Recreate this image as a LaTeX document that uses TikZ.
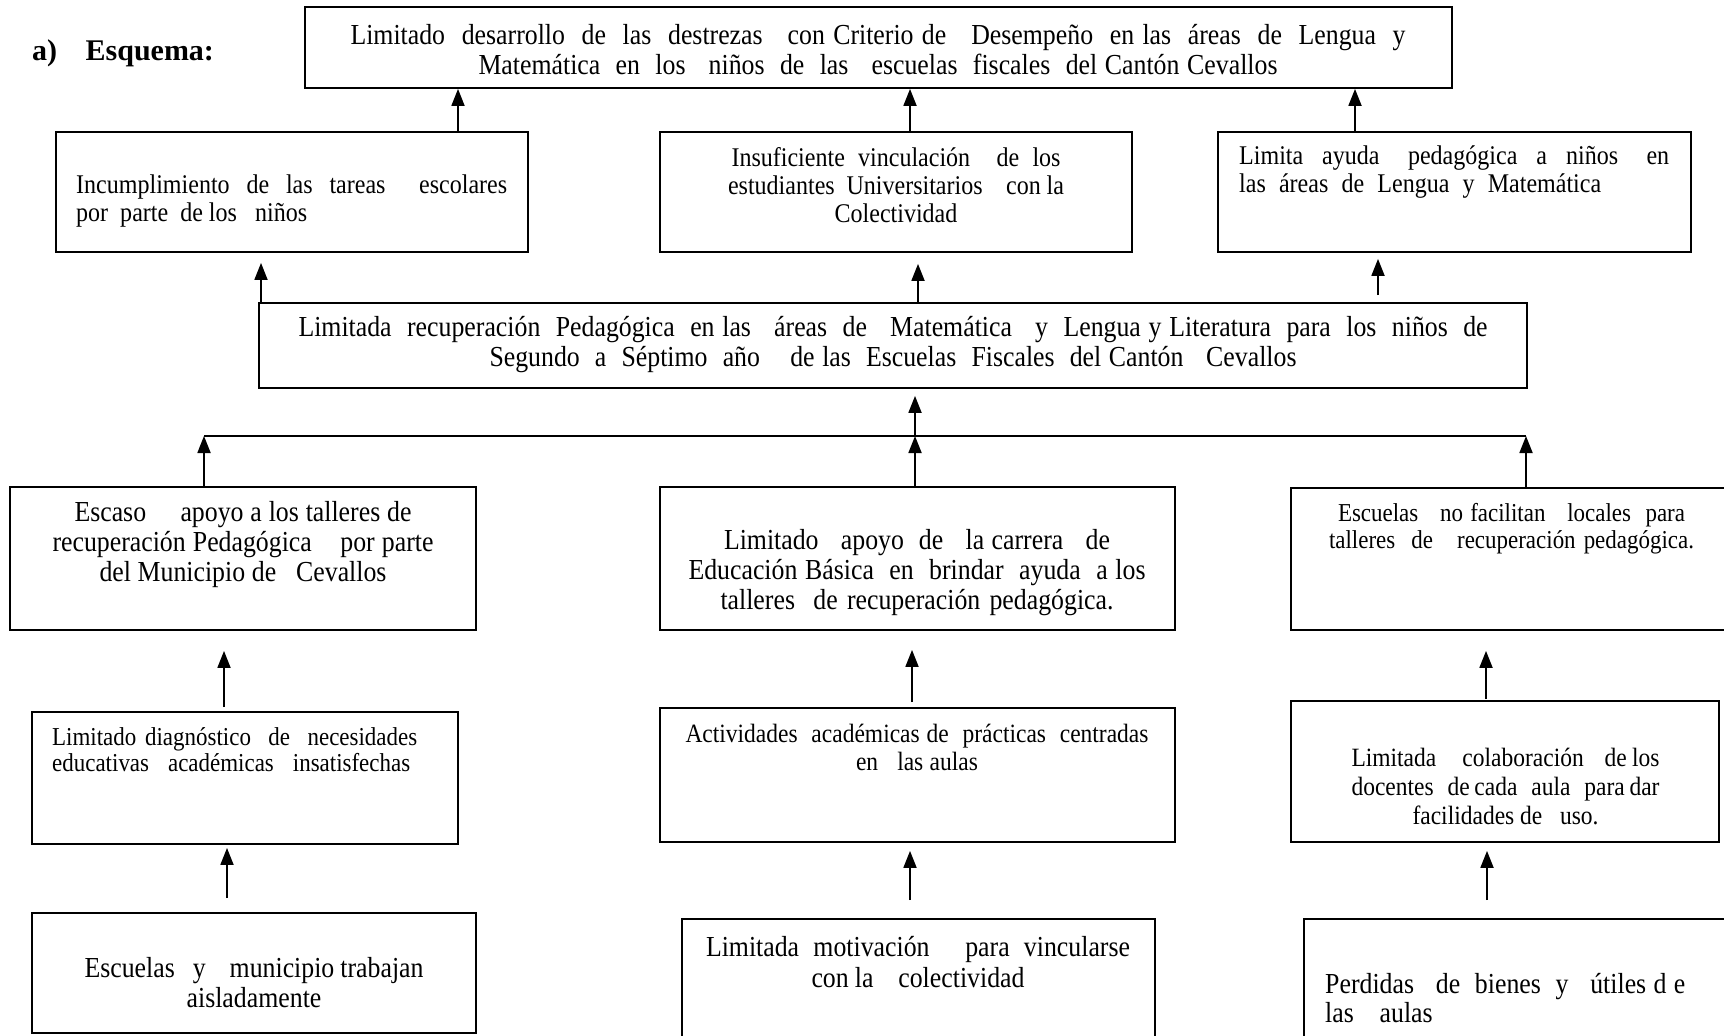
\documentclass[tikz,border=0pt]{standalone}
\usepackage{fontspec}
\setmainfont{Liberation Serif}[FakeStretch=0.89]
\newfontfamily\titlefont{Liberation Serif}
\usetikzlibrary{arrows.meta}
\newcommand{\fsz}[2]{\fontsize{#1pt}{#2pt}\selectfont}
\newcommand{\sline}[2]{\makebox[#1pt][s]{#2}}
\tikzset{
  box/.style={draw, line width=1.8pt, inner sep=0pt, rectangle},
  txt/.style={inner sep=0pt, align=center},
  txtl/.style={inner sep=0pt, align=left, anchor=west},
  arr/.style={line width=1.8pt, -{Triangle[length=17pt,width=13pt]}},
}
\begin{document}
\begin{tikzpicture}[x=1pt,y=-1pt]
\useasboundingbox (0,0) rectangle (1724,1036);
\fill[white] (0,0) rectangle (1724,1036);
\clip (0,0) rectangle (1724,1036);

% title
\node[inner sep=0pt, font=\titlefont\bfseries\fsz{30}{34}] (title) at (123,53) {\sline{182}{a)~~~ Esquema:}};

% boxes
\node[box, minimum width=1147pt, minimum height=81pt] (top) at (878.5,47.5) {};
\node[box, minimum width=472pt, minimum height=120pt] (L1) at (292,192) {};
\node[box, minimum width=472pt, minimum height=120pt] (M1) at (896,192) {};
\node[box, minimum width=473pt, minimum height=120pt] (R1) at (1454.5,192) {};
\node[box, minimum width=1268pt, minimum height=85pt] (C) at (893,345.5) {};
\node[box, minimum width=466pt, minimum height=143pt] (L2) at (243,558.5) {};
\node[box, minimum width=515pt, minimum height=143pt] (M2) at (917.5,558.5) {};
\node[box, minimum width=439pt, minimum height=142pt] (R2) at (1510.5,559) {};
\node[box, minimum width=426pt, minimum height=132pt] (L3) at (245,778) {};
\node[box, minimum width=515pt, minimum height=134pt] (M3) at (917.5,775) {};
\node[box, minimum width=428pt, minimum height=141pt] (R3) at (1505,771.5) {};
\node[box, minimum width=444pt, minimum height=120pt] (L4) at (254,973) {};
\node[box, minimum width=473pt, minimum height=141pt] (M4) at (918.5,989.5) {};
\node[box, minimum width=436pt, minimum height=141pt] (R4) at (1522,989.5) {};

% texts
\node[txt, font=\fsz{29}{30}] (topt) at (878,50) {%
\sline{1055}{Limitado~ desarrollo~ de~ las~ destrezas~~ con Criterio de~~ Desempeño~ en las~ áreas~ de~ Lengua~ y}\\
\sline{799}{Matemática~ en~ los~~ niños~ de~ las~~ escuelas~ fiscales~ del Cantón Cevallos}};

\node[txtl, font=\fsz{27}{28}] (L1t) at (76,201) {%
\sline{431}{Incumplimiento~ de~ las~ tareas~~~ escolares}\\
por~ parte~ de los~~ niños};

\node[txt, font=\fsz{27}{28}] (M1t) at (896,185) {%
\sline{329}{Insuficiente~ vinculación~~~ de~ los}\\
\sline{336}{estudiantes~ Universitarios~~~ con la}\\
Colectividad};

\node[txtl, font=\fsz{27}{28}] (R1t) at (1239,172) {%
\sline{430}{Limita~ ayuda~~ pedagógica~ a~ niños~~ en}\\
\sline{362}{las~ áreas~ de~ Lengua~ y~ Matemática}};

\node[txt, font=\fsz{29}{30}] (Ct) at (893,345) {%
\sline{1189}{Limitada~ recuperación~ Pedagógica~ en las~~ áreas~ de~~ Matemática~~ y~ Lengua y Literatura~ para~ los~ niños~ de}\\
\sline{807}{Segundo~ a~ Séptimo~ año~~~ de las~ Escuelas~ Fiscales~ del Cantón~~ Cevallos}};

\node[txt, font=\fsz{29}{30}] (L2t) at (243,545) {%
\sline{337}{Escaso~~~~ apoyo a los talleres de}\\
\sline{381}{recuperación Pedagógica~~~ por parte}\\
\sline{287}{del Municipio de~~ Cevallos}};

\node[txt, font=\fsz{29}{30}] (M2t) at (917,573) {%
\sline{386}{Limitado~~ apoyo~ de~~ la carrera~~ de}\\
\sline{457}{Educación Básica~ en~ brindar~ ayuda~ a los}\\
\sline{393}{talleres~ de recuperación pedagógica.}};

\node[txt, font=\fsz{25.8}{27}] (R2t) at (1511.5,529) {%
\sline{347}{Escuelas~~ no facilitan~~ locales~ para}\\
\sline{365}{talleres~ de~~ recuperación pedagógica.}};

\node[txtl, font=\fsz{25.8}{26}] (L3t) at (52,750) {%
\sline{365}{Limitado diagnóstico~ de~ necesidades}\\
\sline{358}{educativas~ académicas~ insatisfechas}};

\node[txt, font=\fsz{26.4}{28}] (M3t) at (917,747) {%
\sline{463}{Actividades~ académicas de~ prácticas~ centradas}\\
\sline{122}{en~~ las aulas}};

\node[txt, font=\fsz{26.4}{29}] (R3t) at (1505.5,786) {%
\sline{308}{Limitada~~~~ colaboración~~~ de los}\\
\sline{308}{docentes~~ de cada~~ aula~~ para dar}\\
facilidades de~~ uso.};

\node[txt, font=\fsz{29}{30}] (L4t) at (254,983) {%
\sline{339}{Escuelas~~ y~~~ municipio trabajan}\\
aisladamente};

\node[txt, font=\fsz{29}{31}] (M4t) at (918,962.5) {%
\sline{424}{Limitada~ motivación~~~~ para~ vincularse}\\
\sline{213}{con la~~~ colectividad}};

\node[txtl, font=\fsz{29}{29}] (R4t) at (1325,998.5) {%
\sline{360}{Perdidas~~ de~ bienes~ y~~ útiles d e}\\
las~~~ aulas};

% connectors, row 1 to top
\draw[arr] ([xshift=166pt]L1.north) -- ([xshift=-420.5pt]top.south);
\draw[arr] ([xshift=14pt]M1.north) -- ([xshift=31.5pt]top.south);
\draw[arr] ([xshift=-99.5pt]R1.north) -- ([xshift=476.5pt]top.south);
% central box to row 1
\draw[arr, shorten >=10pt] ([xshift=-632pt]C.north) -- ([xshift=-31pt]L1.south);
\draw[arr, shorten >=11pt] ([xshift=25pt]C.north) -- ([xshift=22pt]M1.south);
\draw[arr, shorten >=6pt, shorten <=7pt] ([xshift=485pt]C.north) -- ([xshift=-76.5pt]R1.south);
% collector line
\coordinate (hlL) at (204,436);
\coordinate (hlM) at (915,436);
\coordinate (hlR) at (1526,436);
\draw[line width=1.8pt] (hlL) -- (hlR);
\draw[arr, shorten >=7pt] (hlM) -- ([xshift=22pt]C.south);
\draw[arr] ([xshift=-39pt]L2.north) -- (hlL);
\draw[arr] ([xshift=-2.5pt]M2.north) -- (hlM);
\draw[arr] ([xshift=15.5pt]R2.north) -- (hlR);
% row 3 to row 2
\draw[arr, shorten >=20pt, shorten <=4pt] ([xshift=-21pt]L3.north) -- ([xshift=-19pt]L2.south);
\draw[arr, shorten >=19pt, shorten <=5pt] ([xshift=-5.5pt]M3.north) -- ([xshift=-5.5pt]M2.south);
\draw[arr, shorten >=20pt, shorten <=1pt] ([xshift=-19pt]R3.north) -- ([xshift=-24.5pt]R2.south);
% row 4 to row 3
\draw[arr, shorten >=3pt, shorten <=14pt] ([xshift=-27pt]L4.north) -- ([xshift=-18pt]L3.south);
\draw[arr, shorten >=8pt, shorten <=18pt] ([xshift=-8.5pt]M4.north) -- ([xshift=-7.5pt]M3.south);
\draw[arr, shorten >=8pt, shorten <=18pt] ([xshift=-35pt]R4.north) -- ([xshift=-18pt]R3.south);
\end{tikzpicture}
\end{document}
